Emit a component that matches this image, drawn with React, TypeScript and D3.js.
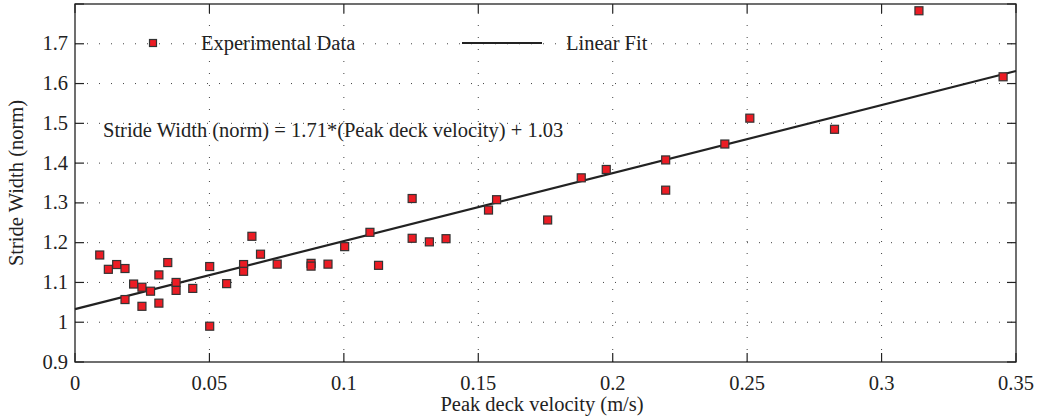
import React from "react";
import * as d3 from "d3";

const velocity = [0.0092, 0.0124, 0.0155, 0.0186, 0.0186, 0.0218, 0.0249, 0.0249, 0.0281, 0.0312, 0.0312, 0.0345, 0.0376, 0.0376, 0.0438, 0.0501, 0.0501, 0.0564, 0.0627, 0.0627, 0.0658, 0.069, 0.0752, 0.0878, 0.0878, 0.0941, 0.1003, 0.1097, 0.1129, 0.1254, 0.1254, 0.1318, 0.138, 0.1538, 0.1568, 0.1758, 0.1883, 0.1976, 0.2197, 0.2197, 0.2417, 0.251, 0.2825, 0.3139, 0.3452];
const strideWidth = [1.169, 1.133, 1.145, 1.135, 1.057, 1.096, 1.088, 1.04, 1.078, 1.119, 1.048, 1.15, 1.1, 1.08, 1.085, 1.14, 0.99, 1.097, 1.145, 1.128, 1.216, 1.171, 1.146, 1.148, 1.141, 1.146, 1.19, 1.226, 1.143, 1.311, 1.211, 1.202, 1.21, 1.282, 1.308, 1.257, 1.363, 1.384, 1.408, 1.332, 1.448, 1.513, 1.485, 1.783, 1.617];
const xTicks = [0, 0.05, 0.1, 0.15, 0.2, 0.25, 0.3, 0.35];
const xTickLabels = ["0", "0.05", "0.1", "0.15", "0.2", "0.25", "0.3", "0.35"];
const yTicks = [0.9, 1, 1.1, 1.2, 1.3, 1.4, 1.5, 1.6, 1.7, 1.8];
const yTickLabels = ["0.9", "1", "1.1", "1.2", "1.3", "1.4", "1.5", "1.6", "1.7", ""];
const fitSlope = 1.71;
const fitIntercept = 1.033;

const W = 1037, H = 416;
const L = 75, R = 1016, T = 4, B = 362;
const FS = 20.5;
const txt: React.CSSProperties = { fontFamily: "Liberation Serif", fontSize: FS };

export default function App() {
  const x = d3.scaleLinear().domain([0, 0.35]).range([L, R]);
  const y = d3.scaleLinear().domain([0.9, 1.8]).range([B, T]);
  const line = d3.line<number>().x(v => x(v)).y(v => y(fitSlope * v + fitIntercept));
  const tick = 9;
  const ms = 8;
  return (
    <svg width={W} height={H} style={{ position: "absolute", left: 0, top: 0, background: "#fff" }}>
      {xTicks.slice(1, -1).map(t => (
        <line key={"gx" + t} x1={x(t)} x2={x(t)} y1={B} y2={T} stroke="#444" strokeWidth={1} strokeDasharray="1 11" />
      ))}
      {yTicks.slice(1, -1).map(t => (
        <line key={"gy" + t} x1={L} x2={R} y1={y(t)} y2={y(t)} stroke="#444" strokeWidth={1} strokeDasharray="1 11" />
      ))}
      {xTicks.map(t => (
        <g key={"tx" + t}>
          <line x1={x(t)} x2={x(t)} y1={B} y2={B - tick} stroke="#222" strokeWidth={1.2} />
          <line x1={x(t)} x2={x(t)} y1={T} y2={T + tick} stroke="#222" strokeWidth={1.2} />
        </g>
      ))}
      {yTicks.map(t => (
        <g key={"ty" + t}>
          <line x1={L} x2={L + tick} y1={y(t)} y2={y(t)} stroke="#222" strokeWidth={1.2} />
          <line x1={R} x2={R - tick} y1={y(t)} y2={y(t)} stroke="#222" strokeWidth={1.2} />
        </g>
      ))}
      {xTicks.map((t, i) => (
        <text key={"lx" + t} x={x(t)} y={390} textAnchor="middle" style={txt} fill="#222">{xTickLabels[i]}</text>
      ))}
      {yTicks.map((t, i) => (
        <text key={"ly" + t} x={68} y={y(t) + 6.5} textAnchor="end" style={txt} fill="#222">{yTickLabels[i]}</text>
      ))}
      <path d={line([0, 0.35]) || ""} fill="none" stroke="#222" strokeWidth={2.2} />
      {velocity.map((v, i) => (
        <rect key={"p" + i} x={x(v) - ms / 2} y={y(strideWidth[i]) - ms / 2} width={ms} height={ms} fill="#ec1c24" stroke="#333" strokeWidth={1.2} />
      ))}
      <rect x={L} y={T} width={R - L} height={B - T} fill="none" stroke="#222" strokeWidth={1.3} />
      <rect x={153 - 3.5} y={43 - 3.5} width={7} height={7} fill="#ec1c24" stroke="#333" strokeWidth={1.2} />
      <text x={201} y={50} style={txt} fill="#222">Experimental Data</text>
      <line x1={462} x2={542} y1={43} y2={43} stroke="#222" strokeWidth={2.2} />
      <text x={566} y={50} style={txt} fill="#222">Linear Fit</text>
      <text x={103} y={137} style={txt} fill="#222">Stride Width (norm) = 1.71*(Peak deck velocity) + 1.03</text>
      <text x={542} y={411} textAnchor="middle" style={txt} fill="#222">Peak deck velocity (m/s)</text>
      <text transform={`translate(23, ${(T + B) / 2}) rotate(-90)`} textAnchor="middle" style={txt} fill="#222">Stride Width (norm)</text>
    </svg>
  );
}
